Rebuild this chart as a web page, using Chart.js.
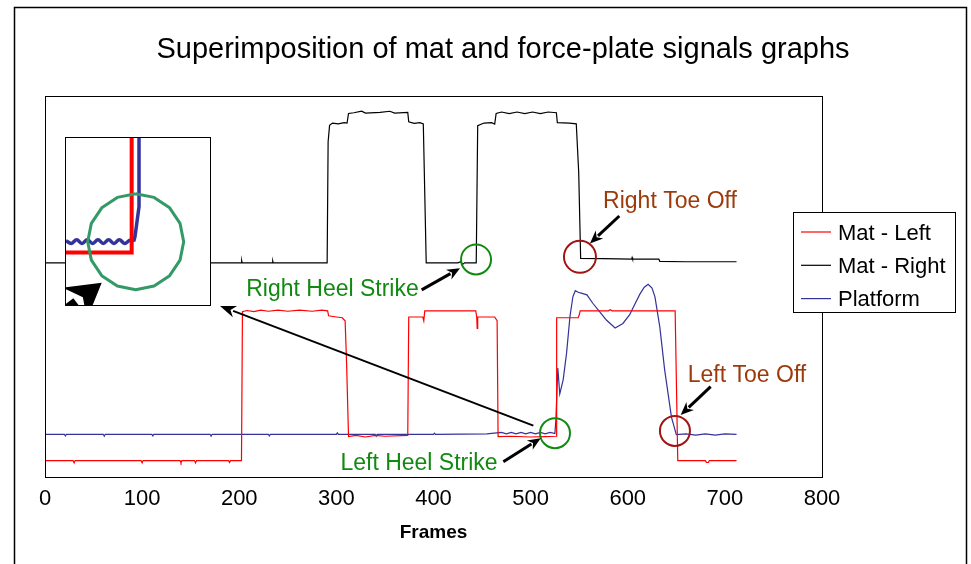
<!DOCTYPE html>
<html>
<head>
<meta charset="utf-8">
<script src="https://cdn.jsdelivr.net/npm/chart.js@4.4.0/dist/chart.umd.min.js"></script>
<style>
  html, body { margin: 0; padding: 0; background: #fff; }
  #wrap { position: relative; width: 971px; height: 564px; overflow: hidden; }
  #inset { position: absolute; left: 65px; top: 137px; width: 144px; height: 167px;
           border: 1px solid #000; background: #fff; }
</style>
</head>
<body>
<div id="wrap">
  <canvas id="main" width="971" height="564"></canvas>
  <div id="inset"><canvas id="zoomChart" width="144" height="167"></canvas></div>
</div>
<script>
// ---- data (frame, signal) ----
const xTicks = [0, 100, 200, 300, 400, 500, 600, 700, 800];

const matLeft = [
  [0, 4.3], [29, 4.3], [30, 3.7], [31, 4.3], [99, 4.3], [100, 3.7], [101, 4.3],
  [139, 4.3], [140, 3.7], [141, 4.3], [154, 4.3], [155, 3.7], [156, 4.3],
  [189, 4.3], [190, 3.8], [191, 4.3], [202.3, 4.3], [203.3, 43.4], [208, 43.7],
  [215, 43.4], [222, 43.8], [230, 43.5], [240, 43.8], [250, 43.5], [262, 43.8],
  [275, 43.5], [285, 43.8], [291, 43.6], [292, 42.3], [300, 42.0], [306, 41.8],
  [309, 41.0], [310.5, 30], [312.5, 10.6], [320, 10.9], [330, 10.5], [340, 10.9],
  [350, 10.7], [373.5, 10.9], [374.5, 42.0], [389, 42.0], [390, 41.0], [391, 43.6],
  [420, 43.6], [443.5, 43.6], [444.5, 42.0], [445, 39.0], [445.5, 42.0], [463, 42.0],
  [465.5, 41.0], [466.5, 10.6], [480, 10.7], [500, 10.5], [515, 10.6], [526.3, 10.7],
  [526.8, 41.8], [549, 41.8], [550, 42.5], [551, 43.6], [580, 43.6], [582, 43.9],
  [584, 43.6], [648.8, 43.6], [651.5, 4.3], [680, 4.3], [681, 3.8], [683, 3.8],
  [684, 4.3], [712, 4.3]
];

const matRight = [
  [0, 56.2], [202, 56.2], [202.5, 56.8], [203, 56.2], [234, 56.2], [234.5, 56.7],
  [235, 56.2], [290.5, 56.2], [291.5, 88], [293, 92.3], [296, 92.9], [302, 92.7],
  [308, 93.0], [311, 92.9], [312.5, 95.4], [318, 95.6], [326, 96.0], [330, 95.5],
  [345, 95.7], [355, 96.0], [360, 95.5], [373.5, 95.7], [374.5, 93.2], [380, 92.8],
  [386, 93.0], [389.5, 92.7], [392.5, 56.2], [425, 56.2], [428, 56.5], [430, 55.8],
  [432, 56.2], [444, 56.2], [445.5, 92.2], [452, 92.9], [460, 93.0], [463, 92.6],
  [464.5, 95.4], [470, 95.8], [478, 95.4], [486, 95.8], [494, 95.4], [502, 95.8],
  [510, 95.4], [518, 95.8], [526.5, 95.6], [527.5, 93.0], [540, 92.9], [547, 92.7],
  [549.5, 80], [551.5, 57.4], [575, 57.3], [604, 57.2], [604.5, 57.6], [605, 57.2],
  [632, 57.2], [633, 56.6], [660, 56.5], [712, 56.5]
];

const platform = [
  [0, 11.2], [20, 11.2], [21, 10.8], [22, 11.2], [60, 11.2], [61, 10.7], [62, 11.2],
  [110, 11.2], [111, 10.8], [112, 11.2], [170, 11.2], [171, 10.7], [172, 11.2],
  [230, 11.2], [231, 10.8], [232, 11.2], [300, 11.2], [301, 11.6], [302, 11.2],
  [340, 11.2], [341, 10.7], [342, 11.2], [400, 11.2], [401, 11.5], [402, 11.2],
  [455, 11.3], [470, 11.7], [475, 11.3], [480, 11.7], [485, 11.3], [490, 11.7],
  [495, 11.3], [500, 11.7], [505, 11.3], [510, 11.7], [515, 11.3], [520, 11.7],
  [525, 11.4], [526, 15.0], [528, 28.6], [530, 21.8], [533.5, 25.5], [537, 32.5],
  [540.5, 42.1], [543.5, 47.3], [546, 48.9], [549, 48.5], [553, 48.2], [558, 47.8],
  [564, 45.6], [571, 43.4], [578, 41.2], [587, 39.1], [595, 40.3], [602, 42.6],
  [607, 45.2], [612.5, 48.0], [617, 49.8], [621, 50.6], [625, 49.6], [628, 47.3],
  [633, 39.4], [638, 28.1], [645, 15.7], [650, 11.1], [660, 11.3], [670, 11.0],
  [680, 11.3], [690, 11.0], [700, 11.3], [712, 11.2]
];

// zoomed view around the left heel strike (inset)
const insetLeft = [[513, 10.51], [524.12, 10.51], [524.12, 17]];
const insetWave = [
  [515, 11.08], [515.74, 10.95], [516.48, 11.13], [517.22, 10.95], [517.96, 11.13],
  [518.7, 10.95], [519.44, 11.13], [520.18, 10.95], [520.92, 11.13], [521.66, 10.95],
  [522.4, 11.13], [523.14, 10.95], [523.88, 11.1], [524.4, 11.04]
];
const insetRise = [[524.4, 11.04], [524.58, 11.27], [525.14, 12.71], [525.14, 17]];

const FONT = "'Liberation Sans', Arial, sans-serif";
const GREEN = '#128a12';
const BROWN = '#9c3a0a';
const DARKRED = '#a01414';
const BLUE = '#333399';

const toXY = arr => arr.map(p => ({ x: p[0], y: p[1] }));

// annotation anchors, in (frame, signal) units
const circles = [
  { f: 443.8, v: 57.1, r: 15, color: GREEN },
  { f: 550.8, v: 57.8, r: 16, color: DARKRED },
  { f: 525.1, v: 11.5, r: 15, color: GREEN },
  { f: 648.6, v: 12.1, r: 15, color: DARKRED }
];
const labels = [
  { text: 'Right Toe Off', f: 643.5, v: 70.5, color: BROWN },
  { text: 'Left Toe Off', f: 722.8, v: 25.0, color: BROWN },
  { text: 'Right Heel Strike', f: 296, v: 47.6, color: GREEN },
  { text: 'Left Heel Strike', f: 385.1, v: 1.8, color: GREEN }
];
const arrows = [
  { from: [387.8, 49.1], to: [427.3, 54.8], w: 3 },
  { from: [591.3, 68.5], to: [561.1, 61.3], w: 3 },
  { from: [685.4, 23.7], to: [654.5, 16.3], w: 3 },
  { from: [471.9, 4.0], to: [510.4, 10.2], w: 3 },
  { from: [502.8, 13.5], to: [180.2, 44.9], w: 2 }
];

function drawArrow(ctx, x1, y1, x2, y2, lw, len, half) {
  const a = Math.atan2(y2 - y1, x2 - x1);
  const c = Math.cos(a), s = Math.sin(a);
  const bx = x2 - len * c, by = y2 - len * s;
  ctx.beginPath();
  ctx.moveTo(x1, y1);
  ctx.lineTo(bx + 2 * c, by + 2 * s);
  ctx.lineWidth = lw;
  ctx.stroke();
  ctx.beginPath();
  ctx.moveTo(x2, y2);
  ctx.lineTo(bx - half * s, by + half * c);
  ctx.lineTo(bx + 0.3 * len * c, by + 0.3 * len * s);
  ctx.lineTo(bx + half * s, by - half * c);
  ctx.closePath();
  ctx.fill();
}

const decor = {
  id: 'decor',
  beforeDraw(chart) {
    const ctx = chart.ctx;
    ctx.save();
    ctx.fillStyle = '#fff';
    ctx.fillRect(0, 0, chart.width, chart.height);
    ctx.restore();
  },
  afterDatasetsDraw(chart) {
    const { ctx, chartArea, scales } = chart;
    const X = scales.x, Y = scales.y;
    ctx.save();

    // plot frame
    ctx.strokeStyle = '#000';
    ctx.lineWidth = 1;
    ctx.strokeRect(Math.round(chartArea.left) + 0.5, Math.round(chartArea.top) + 0.5,
      Math.round(chartArea.right - chartArea.left), Math.round(chartArea.bottom - chartArea.top));

    // outer figure frame
    ctx.lineWidth = 1.5;
    ctx.strokeRect(14.5, 7.5, 952, 600);

    // title
    ctx.fillStyle = '#000';
    ctx.font = '29px ' + FONT;
    ctx.textAlign = 'center';
    ctx.textBaseline = 'alphabetic';
    ctx.fillText('Superimposition of mat and force-plate signals graphs', 503, 58);

    // event circles
    circles.forEach(c => {
      ctx.beginPath();
      ctx.arc(X.getPixelForValue(c.f), Y.getPixelForValue(c.v), c.r, 0, Math.PI * 2);
      ctx.strokeStyle = c.color;
      ctx.lineWidth = 2;
      ctx.stroke();
    });

    // arrows
    ctx.strokeStyle = '#000';
    ctx.fillStyle = '#000';
    arrows.forEach(a => {
      drawArrow(ctx,
        X.getPixelForValue(a.from[0]), Y.getPixelForValue(a.from[1]),
        X.getPixelForValue(a.to[0]), Y.getPixelForValue(a.to[1]),
        a.w, a.w === 2 ? 16 : 13, a.w === 2 ? 6 : 5.5);
    });

    // event labels
    ctx.font = '23px ' + FONT;
    ctx.textAlign = 'center';
    labels.forEach(l => {
      ctx.fillStyle = l.color;
      ctx.fillText(l.text, X.getPixelForValue(l.f), Y.getPixelForValue(l.v));
    });

    // legend, overlapping the right edge of the plot
    const lx = 793.5, ly = 212.5, lw = 162, lh = 100;
    ctx.fillStyle = '#fff';
    ctx.fillRect(lx, ly, lw, lh);
    ctx.strokeStyle = '#000';
    ctx.lineWidth = 1;
    ctx.strokeRect(lx, ly, lw, lh);
    ctx.font = '22px ' + FONT;
    ctx.textAlign = 'left';
    chart.data.datasets.forEach((ds, i) => {
      const yy = 232 + i * 33.3;
      ctx.beginPath();
      ctx.moveTo(801, yy);
      ctx.lineTo(831, yy);
      ctx.strokeStyle = ds.borderColor;
      ctx.lineWidth = 1.2;
      ctx.stroke();
      ctx.fillStyle = '#000';
      ctx.fillText(ds.label, 838, yy + 7.5);
    });

    ctx.restore();
  }
};

new Chart(document.getElementById('main'), {
  type: 'line',
  data: {
    datasets: [
      { label: 'Mat - Left', data: toXY(matLeft), borderColor: '#ff0000', borderWidth: 1.2,
        pointRadius: 0, tension: 0 },
      { label: 'Mat - Right', data: toXY(matRight), borderColor: '#000000', borderWidth: 1.2,
        pointRadius: 0, tension: 0 },
      { label: 'Platform', data: toXY(platform), borderColor: BLUE, borderWidth: 1.2,
        pointRadius: 0, tension: 0 }
    ]
  },
  options: {
    responsive: false,
    animation: false,
    layout: { padding: { left: 45, right: 149, top: 96, bottom: 0 } },
    plugins: { legend: { display: false }, title: { display: false }, tooltip: { enabled: false } },
    scales: {
      x: {
        type: 'linear', min: 0, max: 800,
        grid: { display: false, drawTicks: false },
        border: { display: false },
        afterBuildTicks: s => { s.ticks = xTicks.map(v => ({ value: v })); },
        ticks: { font: { family: FONT, size: 22 }, color: '#000', padding: 9,
                 maxRotation: 0, autoSkip: false },
        title: { display: true, text: 'Frames', color: '#000',
                 font: { family: FONT, size: 19, weight: 'bold' },
                 padding: { top: 0, bottom: 20 } },
        afterFit: s => { s.height = 87; }
      },
      y: { display: false, min: 0, max: 100 }
    }
  },
  plugins: [decor]
});

// ---- inset: zoom of the left heel strike ----
const insetDecor = {
  id: 'insetDecor',
  afterDatasetsDraw(chart) {
    const { ctx, scales } = chart;
    const X = scales.x, Y = scales.y;
    ctx.save();
    // enlarged event circle
    const cx = X.getPixelForValue(524.68), cy = Y.getPixelForValue(11.03), r = 48;
    ctx.beginPath();
    for (let i = 0; i <= 16; i++) {
      const a = -Math.PI / 2 + i * Math.PI * 2 / 16;
      const px = cx + r * Math.cos(a), py = cy + r * Math.sin(a);
      if (i === 0) ctx.moveTo(px, py); else ctx.lineTo(px, py);
    }
    ctx.strokeStyle = '#339966';
    ctx.lineWidth = 3;
    ctx.lineJoin = 'round';
    ctx.stroke();
    // enlarged arrow head, cut by the inset frame
    ctx.fillStyle = '#000';
    ctx.strokeStyle = '#000';
    drawArrow(ctx, X.getPixelForValue(513.6), Y.getPixelForValue(7.38),
      X.getPixelForValue(519.96), Y.getPixelForValue(9.07), 10, 34, 20);
    ctx.restore();
  }
};

new Chart(document.getElementById('zoomChart'), {
  type: 'line',
  data: {
    datasets: [
      { data: toXY(insetLeft), borderColor: '#ff0000', borderWidth: 4, pointRadius: 0,
        tension: 0, borderJoinStyle: 'miter' },
      { data: toXY(insetWave), borderColor: BLUE, borderWidth: 3.5, pointRadius: 0,
        tension: 0.4 },
      { data: toXY(insetRise), borderColor: BLUE, borderWidth: 3.5, pointRadius: 0,
        tension: 0 }
    ]
  },
  options: {
    responsive: false,
    animation: false,
    layout: { padding: 0 },
    plugins: { legend: { display: false }, tooltip: { enabled: false } },
    scales: {
      x: { type: 'linear', display: false, min: 515, max: 535 },
      y: { display: false, min: 8, max: 16 }
    }
  },
  plugins: [insetDecor]
});
</script>
</body>
</html>
